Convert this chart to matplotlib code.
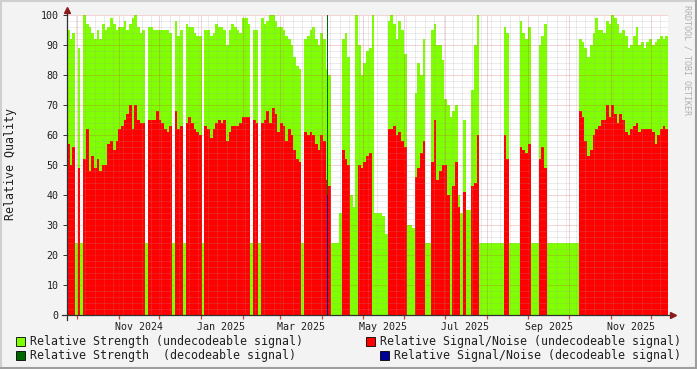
import datetime
import numpy as np
import matplotlib
matplotlib.use("Agg")
import matplotlib.pyplot as plt
import matplotlib.dates as mdates
from matplotlib.patches import Rectangle

nan = np.nan

# one value per 2-day step, starting 2024-09-23
strength = [95, 92, 94, 24, 89, 24, 100, 97, 96, 94,
            92, 95, 92, 97, 95, 96, 99, 97, 95, 96,
            96, 98, 95, 97, 99, 100, 96, 94, 95, 24,
            96, 96, 95, 95, 95, 95, 95, 95, 94, 24,
            98, 93, 95, 24, 97, 96, 96, 94, 93, 93,
            24, 95, 95, 93, 94, 97, 96, 96, 95, 90,
            95, 97, 96, 95, 94, 99, 99, 97, 24, 95,
            95, 24, 99, 97, 98, 100, 100, 98, 96, 96,
            95, 93, 92, 90, 86, 83, 82, 24, 92, 93,
            95, 96, 92, 90, 94, 92, 82, 80, 24, 24,
            24, 34, 92, 94, 86, 40, 36, 100, 90, 80,
            84, 88, 89, 100, 34, 34, 34, 33, 27, 98,
            100, 97, 92, 98, 95, 87, 30, 30, 29, 74,
            84, 80, 92, 24, 24, 95, 97, 90, 90, 85,
            72, 70, 66, 68, 70, 40, 34, 65, 35, 35,
            75, 90, 100, 24, 24, 24, 24, 24, 24, 24,
            24, 24, 96, 94, 24, 24, 24, 24, 98, 94,
            92, 96, 24, 24, 24, 90, 93, 97, 24, 24,
            24, 24, 24, 24, 24, 24, 24, 24, 24, 24,
            92, 91, 89, 86, 90, 94, 99, 95, 95, 94,
            98, 97, 100, 99, 97, 94, 95, 93, 89, 90,
            93, 96, 90, 91, 89, 91, 92, 90, 91, 92,
            93, 92, 93]

snr = [57, 50, 56, nan, 49, nan, 52, 62, 48, 53,
       49, 52, 48, 50, 50, 57, 58, 55, 58, 62,
       63, 65, 67, 70, 62, 70, 65, 64, 64, nan,
       65, 65, 65, 68, 65, 64, 62, 61, 63, nan,
       68, 62, 63, nan, 64, 66, 64, 62, 61, 60,
       nan, 63, 62, 59, 62, 64, 65, 64, 65, 58,
       61, 63, 63, 63, 64, 66, 66, 66, nan, 65,
       64, nan, 64, 65, 68, 64, 69, 67, 61, 64,
       63, 58, 62, 60, 55, 52, 51, nan, 61, 60,
       61, 60, 57, 55, 60, 58, 45, 43, nan, nan,
       nan, nan, 55, 52, 50, nan, nan, nan, 50, 49,
       51, 53, 54, nan, nan, nan, nan, nan, nan, 62,
       62, 63, 60, 61, 58, 56, nan, nan, nan, 46,
       49, 54, 58, nan, nan, 51, 65, 45, 48, 50,
       50, 40, nan, 43, 51, 36, nan, 41, nan, nan,
       43, 44, 60, nan, nan, nan, nan, nan, nan, nan,
       nan, nan, 60, 52, nan, nan, nan, nan, 56, 55,
       54, 57, nan, nan, nan, 52, 56, 49, nan, nan,
       nan, nan, nan, nan, nan, nan, nan, nan, nan, nan,
       68, 66, 58, 53, 55, 60, 62, 63, 65, 65,
       70, 66, 70, 67, 64, 67, 65, 61, 60, 62,
       63, 64, 61, 62, 62, 62, 62, 61, 57, 60,
       62, 63, 62]

# decodeable signal (only one sample)
dec_step = [96]
dec_strength = [100]
dec_snr = [40]

label_months = ["Nov 2024", "Jan 2025", "Mar 2025", "May 2025",
                "Jul 2025", "Sep 2025", "Nov 2025"]

W, H = 697, 369
start = datetime.datetime(2024, 9, 23, 14)
end = start + datetime.timedelta(days=446)
x = mdates.date2num([start + datetime.timedelta(days=2 * i) for i in range(len(strength))])
xd = mdates.date2num([start + datetime.timedelta(days=2 * i + 0.6) for i in dec_step])

mono = "DejaVu Sans Mono"
plt.rcParams["font.family"] = mono

fig = plt.figure(figsize=(W / 100, H / 100), dpi=100, facecolor="#F3F3F3")
ax = fig.add_axes([67 / W, (H - 315) / H, 601 / W, 300 / H])
ax.set_facecolor("white")

ax.bar(x, strength, width=2, align="edge", color="#7FFF00", linewidth=0, antialiased=False, zorder=1)
ax.bar(x, snr, width=2, align="edge", color="#FF0000", linewidth=0, antialiased=False, zorder=1.1)
ax.bar(xd, dec_strength, width=0.75, align="edge", color="#006600", linewidth=0, antialiased=False, zorder=1.2)
ax.bar(xd, dec_snr, width=0.75, align="edge", color="#000099", linewidth=0, antialiased=False, zorder=1.3)

ax.set_xlim(mdates.date2num(start), mdates.date2num(end))
ax.set_ylim(0, 100)

# grid like rrdtool: dotted, drawn over the areas
dots = (0, (1, 1))
for v in range(2, 100, 2):
    if v % 10:
        ax.axhline(v, color="#A0A0A0", alpha=0.4, lw=0.72, ls=dots, zorder=2)
for v in range(10, 101, 10):
    ax.axhline(v, color="#D04040", alpha=0.45, lw=0.72, ls=dots, zorder=2)

d = start.date()
weeks, months = [], []
while d <= end.date():
    if d.day == 1:
        months.append(mdates.date2num(d))
    elif d.weekday() == 0:
        weeks.append(mdates.date2num(d))
    d += datetime.timedelta(days=1)
for m in weeks:
    ax.axvline(m, color="#A0A0A0", alpha=0.4, lw=0.72, ls=dots, zorder=2)
for m in months:
    ax.axvline(m, color="#D04040", alpha=0.45, lw=0.72, ls=dots, zorder=2)
ax.vlines(months, -0.012, 0, transform=ax.get_xaxis_transform(), clip_on=False,
          color="#D04040", lw=0.9)

for s in ax.spines.values():
    s.set_visible(False)
ax.plot([-5 / 601, 1 + 3 / 601], [0, 0], color="#303030", lw=0.9, transform=ax.transAxes, clip_on=False, zorder=3)
ax.plot([0, 0], [-5 / 300, 1 + 2 / 300], color="#303030", lw=0.9, transform=ax.transAxes, clip_on=False, zorder=3)
ax.plot([1 + 5 / 601], [0], marker=">", ms=4.5, color="#8B1A1A", transform=ax.transAxes, clip_on=False, zorder=3)
ax.plot([0], [1 + 5 / 300], marker="^", ms=4.5, color="#8B1A1A", transform=ax.transAxes, clip_on=False, zorder=3)

ax.set_yticks(range(0, 101, 10))
ax.tick_params(axis="y", length=3, width=0.7, color="#303030", pad=3, labelsize=7.2, labelcolor="#202020")

label_pos = []
for lab in label_months:
    dt = datetime.datetime.strptime(lab, "%b %Y") + datetime.timedelta(days=15)
    label_pos.append(mdates.date2num(dt))
ax.set_xticks(label_pos)
ax.set_xticklabels(label_months)
ax.tick_params(axis="x", length=0, pad=5, labelsize=7.2, labelcolor="#202020")

fig.text(11 / W, 1 - 164 / H, "Relative Quality", rotation=90, ha="center", va="center",
         fontsize=8.4, color="#202020")
fig.text(687 / W, 1 - 5 / H, "RRDTOOL / TOBI OETIKER", rotation=-90, ha="center", va="top",
         fontsize=6, color="#B0B0B0")

legend_items = [
    (16, 341, "#7FFF00", "Relative Strength (undecodeable signal)"),
    (366, 341, "#FF0000", "Relative Signal/Noise (undecodeable signal)"),
    (16, 355, "#006600", "Relative Strength  (decodeable signal)"),
    (380, 355, "#000099", "Relative Signal/Noise (decodeable signal)"),
]
for lx, ly, col, txt in legend_items:
    fig.patches.append(Rectangle((lx / W, 1 - (ly + 4.5) / H), 9 / W, 9 / H, transform=fig.transFigure,
                                 facecolor=col, edgecolor="black", lw=0.6))
    fig.text((lx + 14) / W, 1 - ly / H, txt, ha="left", va="center", fontsize=8.4, color="#202020")

# 3d frame
fig.add_artist(plt.Line2D([0, 1], [1 - 0.5 / H, 1 - 0.5 / H], color="#CFCFCF", lw=1.5))
fig.add_artist(plt.Line2D([0.5 / W, 0.5 / W], [0, 1], color="#CFCFCF", lw=1.5))
fig.add_artist(plt.Line2D([0, 1], [0.7 / H, 0.7 / H], color="#9E9E9E", lw=1.5))
fig.add_artist(plt.Line2D([1 - 0.7 / W, 1 - 0.7 / W], [0, 1], color="#9E9E9E", lw=1.5))

fig.savefig("out.png", dpi=100, facecolor=fig.get_facecolor())
